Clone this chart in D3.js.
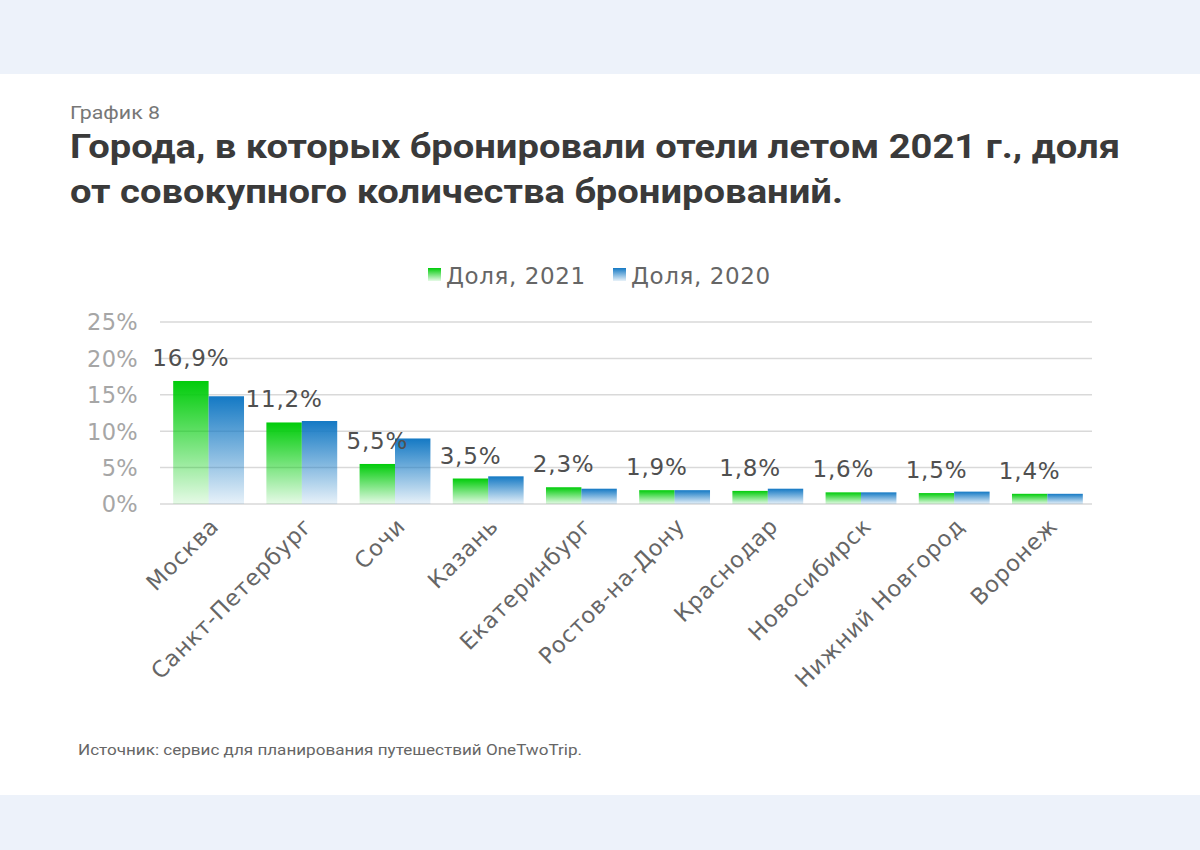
<!DOCTYPE html>
<html><head><meta charset="utf-8">
<script src="https://cdn.jsdelivr.net/npm/d3@7"></script>
<style>
html,body{margin:0;padding:0;background:#fff;}
svg{display:block;}
</style></head>
<body>
<script>
const categories = ["Москва","Санкт-Петербург","Сочи","Казань","Екатеринбург","Ростов-на-Дону","Краснодар","Новосибирск","Нижний Новгород","Воронеж"];
const share2021 = [16.9, 11.2, 5.5, 3.5, 2.3, 1.9, 1.8, 1.6, 1.5, 1.4];
const share2020 = [14.8, 11.4, 9.0, 3.8, 2.1, 1.9, 2.1, 1.6, 1.7, 1.4];
const seriesNames = ["Доля, 2021", "Доля, 2020"];
const yTicks = [0, 5, 10, 15, 20, 25];

const W = 1200, H = 850;
const svg = d3.select("body").append("svg").attr("width", W).attr("height", H);
const font = "'DejaVu Sans', 'Noto Sans', sans-serif";

// background bands
svg.append("rect").attr("x",0).attr("y",0).attr("width",W).attr("height",H).attr("fill","#fff");
svg.append("rect").attr("x",0).attr("y",0).attr("width",W).attr("height",74).attr("fill","#edf2fa");
svg.append("rect").attr("x",0).attr("y",795).attr("width",W).attr("height",55).attr("fill","#edf2fa");

// gradients
const defs = svg.append("defs");
function grad(id, color){
  const g = defs.append("linearGradient").attr("id", id).attr("x1",0).attr("y1",0).attr("x2",0).attr("y2",1);
  g.append("stop").attr("offset","0%").attr("stop-color",color).attr("stop-opacity",1);
  g.append("stop").attr("offset","100%").attr("stop-color",color).attr("stop-opacity",0.1);
}
grad("gGreen", "#00cc0a");
grad("gBlue", "#1479c4");

// titles
const tFont = "Roboto, 'Noto Sans', sans-serif";
svg.append("text").attr("x",70).attr("y",119).attr("font-family",tFont).attr("font-size",19)
  .attr("fill","#777").attr("textLength",90).attr("lengthAdjust","spacingAndGlyphs").text("График 8");
svg.append("text").attr("x",70).attr("y",158).attr("font-family",tFont).attr("font-weight","bold")
  .attr("font-size",34).attr("fill","#3a3a3a").attr("textLength",1050).attr("lengthAdjust","spacingAndGlyphs")
  .text("Города, в которых бронировали отели летом 2021 г., доля");
svg.append("text").attr("x",70).attr("y",203).attr("font-family",tFont).attr("font-weight","bold")
  .attr("font-size",34).attr("fill","#3a3a3a").attr("textLength",773).attr("lengthAdjust","spacingAndGlyphs")
  .text("от совокупного количества бронирований.");

// scales
const x0 = d3.scaleBand().domain(categories).range([162, 1094]).paddingInner(0.24).paddingOuter(0.12);
const x1 = d3.scaleBand().domain([0,1]).range([0, x0.bandwidth()]);
const y = d3.scaleLinear().domain([0, 25]).range([504, 322]);

// gridlines
svg.append("g").selectAll("line").data(yTicks).join("line")
  .attr("x1",160).attr("x2",1092).attr("y1",d=>y(d)).attr("y2",d=>y(d))
  .attr("stroke","#d9d9d9").attr("stroke-width",1.5);

// y axis labels
const yAxis = d3.axisLeft(y).tickValues(yTicks).tickFormat(d=>d+"%").tickSize(0).tickPadding(0);
const yg = svg.append("g").attr("transform","translate(138,0)").call(yAxis);
yg.select(".domain").remove();
yg.selectAll("text").attr("font-family",font).attr("font-size",22.5).attr("letter-spacing",0.3)
  .attr("fill","#a6a6a6").attr("dy","0.35em");

// bars
const groups = svg.append("g").selectAll("g").data(categories).join("g")
  .attr("transform", d=>`translate(${x0(d)},0)`);
groups.append("rect").attr("x",x1(0)).attr("width",x1.bandwidth())
  .attr("y",(d,i)=>y(share2021[i])).attr("height",(d,i)=>y(0)-y(share2021[i]))
  .attr("fill","url(#gGreen)");
groups.append("rect").attr("x",x1(1)).attr("width",x1.bandwidth())
  .attr("y",(d,i)=>y(share2020[i])).attr("height",(d,i)=>y(0)-y(share2020[i]))
  .attr("fill","url(#gBlue)");

// value labels
groups.append("text").attr("x",x1(0)+x1.bandwidth()/2).attr("y",(d,i)=>y(share2021[i])-15)
  .attr("text-anchor","middle").attr("font-family",font).attr("font-size",23).attr("letter-spacing",0.8)
  .attr("fill","#505050")
  .text((d,i)=>String(share2021[i].toFixed(1)).replace(".",",")+"%");

// x labels
const xAxis = d3.axisBottom(x0).tickSize(0).tickPadding(0);
const xg = svg.append("g").attr("transform","translate(0,516)").call(xAxis);
xg.select(".domain").remove();
xg.selectAll("text").attr("font-family",font).attr("font-size",22.5).attr("letter-spacing",0.8).attr("fill","#666")
  .attr("text-anchor","end").attr("dy","0.35em")
  .attr("transform","translate(6,6) rotate(-45)");

// legend
const legend = svg.append("g");
const lx = [428, 613];
const lc = ["url(#gGreen)","url(#gBlue)"];
seriesNames.forEach((s,i)=>{
  legend.append("rect").attr("x",lx[i]).attr("y",268).attr("width",13).attr("height",13).attr("fill",lc[i]);
  legend.append("text").attr("x",lx[i]+18).attr("y",276).attr("dy","0.35em").attr("font-family",font)
    .attr("font-size",23).attr("letter-spacing",0.6).attr("fill","#666").text(s);
});

// source
svg.append("text").attr("x",78).attr("y",755).attr("font-family",tFont).attr("font-size",14)
  .attr("fill","#666").attr("textLength",504).attr("lengthAdjust","spacingAndGlyphs")
  .text("Источник: сервис для планирования путешествий OneTwoTrip.");
</script>
</body></html>
